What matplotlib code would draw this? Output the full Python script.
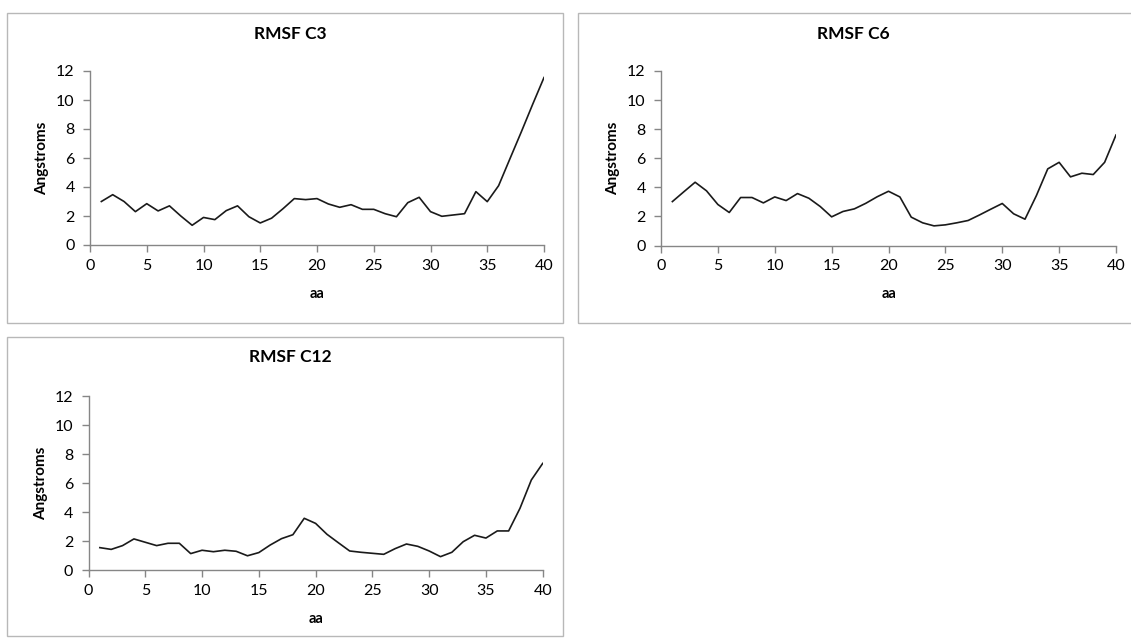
import matplotlib.pyplot as plt
from matplotlib.patches import Rectangle

# residue index
aa = list(range(1, 41))

# RMSF values (Angstroms)
rmsf_c3 = [3.0, 3.47, 3.0, 2.3, 2.85, 2.35, 2.7, 2.0, 1.36, 1.9,
           1.75, 2.37, 2.7, 1.95, 1.52, 1.85, 2.5, 3.2, 3.13, 3.2,
           2.83, 2.6, 2.78, 2.46, 2.46, 2.16, 1.95, 2.92, 3.29, 2.3,
           1.98, 2.07, 2.16, 3.68, 2.99, 4.09, 5.95, 7.8, 9.7, 11.55]
rmsf_c6 = [3.02, 3.69, 4.35, 3.76, 2.82, 2.27, 3.3, 3.3, 2.93, 3.34,
           3.09, 3.57, 3.25, 2.68, 1.97, 2.34, 2.52, 2.9, 3.35, 3.73,
           3.34, 1.95, 1.56, 1.35, 1.42, 1.56, 1.72, 2.1, 2.5, 2.89,
           2.18, 1.81, 3.43, 5.27, 5.72, 4.72, 4.97, 4.88, 5.72, 7.6]
rmsf_c12 = [1.56, 1.44, 1.7, 2.16, 1.93, 1.7, 1.86, 1.86, 1.15, 1.38,
            1.28, 1.38, 1.31, 1.0, 1.22, 1.74, 2.18, 2.45, 3.58, 3.23,
            2.48, 1.9, 1.33, 1.24, 1.17, 1.1, 1.49, 1.81, 1.65, 1.33,
            0.94, 1.24, 1.97, 2.41, 2.22, 2.71, 2.71, 4.27, 6.22, 7.36]

titles = ["RMSF C3", "RMSF C6", "RMSF C12"]
series = [rmsf_c3, rmsf_c6, rmsf_c12]

plt.rcParams['font.family'] = ['Lato', 'DejaVu Sans']

W, H = 1131, 642
fig = plt.figure(figsize=(W / 100, H / 100), dpi=100)


def fx(px):
    return px / W


def fy(py):
    return 1 - py / H


# panel frames (pixel boxes: left, top, right, bottom)
frames = [(7, 13, 563, 323), (578, 13, 1140, 323), (7, 337, 563, 636)]
# plot areas (left, top, right, bottom) in pixels
areas = [(90, 71, 544, 245), (661, 71, 1116, 245.5), (88.5, 396, 542.7, 570.3)]
# title centres (x, y) in pixels
title_pos = [(290, 34), (853, 34), (290, 357)]

for (l, t, r, b) in frames:
    fig.patches.append(Rectangle((fx(l), fy(b)), fx(r - l), (b - t) / H,
                                 transform=fig.transFigure, fill=False,
                                 edgecolor='#b8b8b8', linewidth=1.0))

gray = '#868686'
for (l, t, r, b), (tx, ty), title, vals in zip(areas, title_pos, titles, series):
    ax = fig.add_axes([fx(l), fy(b), fx(r - l), (b - t) / H])
    ax.plot(aa, vals, color='#1a1a1a', linewidth=1.2)
    ax.set_xlim(0, 40)
    ax.set_ylim(0, 12)
    ax.set_xticks(range(0, 41, 5))
    ax.set_yticks(range(0, 13, 2))
    for s in ['top', 'right']:
        ax.spines[s].set_visible(False)
    for s in ['left', 'bottom']:
        ax.spines[s].set_color(gray)
        ax.spines[s].set_linewidth(1.0)
    ax.tick_params(axis='both', colors=gray, labelcolor='black', labelsize=11.5,
                   length=5, width=1.0, direction='out')
    ax.tick_params(axis='x', pad=5)
    ax.tick_params(axis='y', pad=6)
    ax.set_ylabel('Angstroms', fontsize=11, fontweight='bold', labelpad=5)
    ax.set_xlabel('aa', fontsize=10.5, fontweight='bold', labelpad=10)
    fig.text(fx(tx), fy(ty), title, ha='center', va='center',
             fontsize=12.5, fontweight='bold')

fig.savefig('out.png', dpi=100, facecolor='white')
